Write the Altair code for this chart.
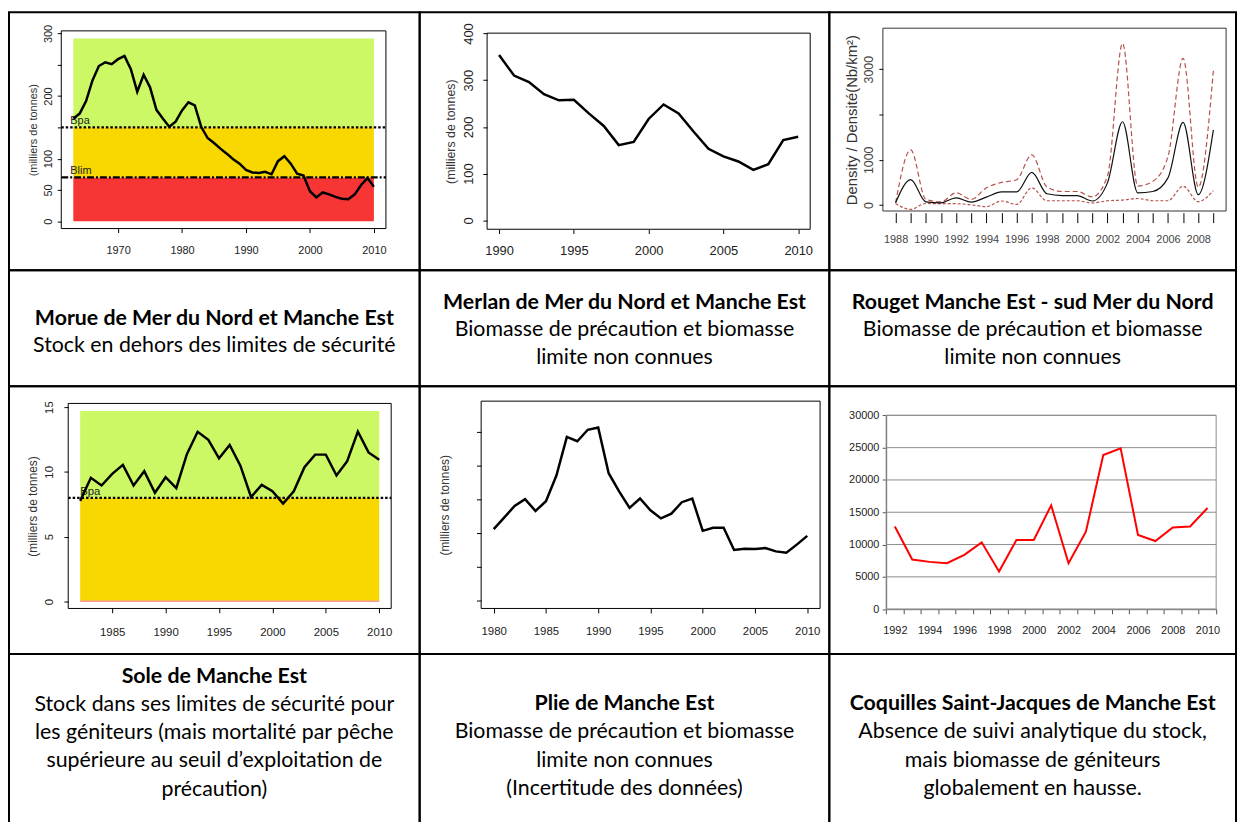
import altair as alt
import pandas as pd

# ---------------- data ----------------
MORUE_YEARS = list(range(1963, 2011))
MORUE_SSB = [164, 172, 192, 225, 248, 254, 251, 259, 264, 243,
             207, 234, 214, 178, 164, 151, 159, 177, 190, 185,
             151, 133, 125, 116, 108, 99, 92, 82, 78, 77,
             79, 75, 96, 104, 92, 76, 73, 48, 38, 46,
             43, 39, 36, 35, 43, 58, 69, 55]
MORUE_BLIM = 70
MORUE_BPA = 150
MORUE_TOP = 292
MORUE_YTICKS = [0, 50, 100, 150, 200, 250, 300]
MORUE_XTICKS = [1970, 1980, 1990, 2000, 2010]

MERLAN_YEARS = list(range(1990, 2011))
MERLAN_SSB = [354, 310, 296, 270, 257, 258, 229, 202, 161, 168, 217,
              248, 229, 190, 153, 137, 126, 108, 120, 172, 179]
MERLAN_YTICKS = [0, 100, 200, 300, 400]
MERLAN_XTICKS = [1990, 1995, 2000, 2005, 2010]

ROUGET_YEARS = list(range(1988, 2010))
ROUGET_MEAN = [50, 560, 70, 50, 160, 65, 175, 290, 290, 720, 250,
               210, 210, 90, 490, 1840, 270, 300, 600, 1825, 230, 1660]
ROUGET_UPPER = [50, 1220, 125, 70, 270, 125, 380, 500, 560, 1110, 400,
                300, 300, 180, 640, 3570, 420, 525, 1070, 3240, 395, 2970]
ROUGET_LOWER = [30, -95, 35, 30, 30, 5, -35, 90, 15, 380, 95,
                95, 95, 45, 95, 110, 145, 95, 95, 415, 75, 320]
ROUGET_YTICKS = [0, 1000, 2000, 3000]

SOLE_YEARS = list(range(1982, 2011))
SOLE_SSB = [7.76, 9.54, 8.95, 9.85, 10.54, 8.95, 10.05, 8.39, 9.59, 8.75,
            11.38, 13.09, 12.47, 11.05, 12.07, 10.48, 8.06, 9.0, 8.5, 7.55,
            8.5, 10.36, 11.33, 11.33, 9.72, 10.82, 13.11, 11.5, 10.94]
SOLE_BLIM = 0.08
SOLE_BPA = 8
SOLE_TOP = 14.7
SOLE_YTICKS = [0, 5, 10, 15]
SOLE_XTICKS = [1985, 1990, 1995, 2000, 2005, 2010]

PLIE_YEARS = list(range(1980, 2011))
PLIE_SSB = [21.1, 24.5, 28.0, 30.0, 26.5, 29.4, 37.0, 48.5, 47.2, 50.6, 51.3,
            37.7, 32.3, 27.4, 30.2, 26.7, 24.3, 25.7, 29.1, 30.2, 20.6,
            21.5, 21.5, 14.9, 15.3, 15.2, 15.5, 14.5, 14.1, 16.5, 19.1]
PLIE_YTICKS = [0, 10, 20, 30, 40, 50]
PLIE_XTICKS = [1980, 1985, 1990, 1995, 2000, 2005, 2010]

COQ_YEARS = list(range(1992, 2011))
COQ_VALUES = [12800, 7680, 7320, 7115, 8400, 10340, 5840, 10700, 10700, 16070,
              7115, 11980, 23850, 24880, 11470, 10545, 12640, 12800, 15660]
COQ_YTICKS = [0, 5000, 10000, 15000, 20000, 25000, 30000]
COQ_XBOUNDS = [y - 0.5 for y in COQ_YEARS] + [2010.5]

CAPTIONS = [
    ("Morue de Mer du Nord et Manche Est",
     ["Stock en dehors des limites de sécurité"]),
    ("Merlan de Mer du Nord et Manche Est",
     ["Biomasse de précaution et biomasse", "limite non connues"]),
    ("Rouget Manche Est - sud Mer du Nord",
     ["Biomasse de précaution et biomasse", "limite non connues"]),
    ("Sole de Manche Est",
     ["Stock dans ses limites de sécurité pour",
      "les géniteurs (mais mortalité par pêche",
      "supérieure au seuil d’exploitation de", "précaution)"]),
    ("Plie de Manche Est",
     ["Biomasse de précaution et biomasse", "limite non connues",
      "(Incertitude des données)"]),
    ("Coquilles Saint-Jacques de Manche Est",
     ["Absence de suivi analytique du stock,", "mais biomasse de géniteurs",
      "globalement en hausse."]),
]

# ---------------- layout ----------------
COL_W = [414, 413, 410]
ROW_H = [260, 117, 270, 175]
R_FONT = "Liberation Sans"
CAP_FONT = "Lato"
CAP_SIZE = 21.5
GREEN, YELLOW, RED = "#CCF865", "#F8D800", "#F83535"


def sc(dom, rng):
    return alt.Scale(domain=dom, range=rng, nice=False, zero=False)


def r_xaxis(values, offset, size, pad, tick=4.0, font=R_FONT, label_expr=None, color="#222"):
    kw = dict(values=values, format="d", title=None, grid=False, domain=False,
              tickSize=tick, tickColor="black", tickWidth=1, labelFont=font,
              labelFontSize=size, labelColor=color, labelPadding=pad, offset=offset,
              labelFlush=False, labelOverlap=False)
    if label_expr:
        kw["labelExpr"] = label_expr
    return alt.Axis(**kw)


def r_yaxis(values, offset, size, pad, title, tx, ty, tsize, tick=4.0,
            label_expr=None, labels=True, color="#222"):
    kw = dict(values=values, title=title, grid=False, domain=False, tickSize=tick,
              tickColor="black", labelFont=R_FONT, labelFontSize=size, labelColor=color,
              labelPadding=pad, labelAngle=270, labelAlign="center", labelBaseline="bottom",
              offset=offset, labelFlush=False, labelOverlap=False, labels=labels,
              titleFont=R_FONT, titleFontSize=tsize, titleFontWeight="normal",
              titleColor="#333", titleAngle=270, titleX=tx, titleY=ty,
              titleAlign="center", titleBaseline="middle", format="d")
    if label_expr:
        kw["labelExpr"] = label_expr
    return alt.Axis(**kw)


class Panel:
    """Holds the shared scales and axes of one plot cell (same in every layer)."""

    def __init__(self, xdom, xrng, ydom, yrng, xaxis, yaxis):
        self.xdom, self.ydom = xdom, ydom
        self.xs, self.ys = sc(xdom, xrng), sc(ydom, yrng)
        self.xa, self.ya = xaxis, yaxis

    def X(self, f):
        return alt.X(f, scale=self.xs, axis=self.xa)

    def Y(self, f):
        return alt.Y(f, scale=self.ys, axis=self.ya)

    def box(self, color="black", width=1.0):
        df = pd.DataFrame({"x0": [self.xdom[0]], "x1": [self.xdom[1]],
                           "y0": [self.ydom[0]], "y1": [self.ydom[1]]})
        return alt.Chart(df).mark_rect(fillOpacity=0, stroke=color, strokeWidth=width).encode(
            x=self.X("x0:Q"), x2="x1:Q", y=self.Y("y0:Q"), y2="y1:Q")

    def bands(self, x0, x1, edges, colors):
        df = pd.DataFrame({"x0": [x0] * len(colors), "x1": [x1] * len(colors),
                           "y0": edges[:-1], "y1": edges[1:], "c": colors})
        return alt.Chart(df).mark_rect(strokeWidth=0).encode(
            x=self.X("x0:Q"), x2="x1:Q", y=self.Y("y0:Q"), y2="y1:Q",
            color=alt.Color("c:N", scale=None))

    def hline(self, value, dash, width=2.2, color="black"):
        df = pd.DataFrame({"x0": [self.xdom[0]], "x1": [self.xdom[1]], "y": [value]})
        return alt.Chart(df).mark_rule(color=color, strokeWidth=width, strokeDash=dash).encode(
            x=self.X("x0:Q"), x2="x1:Q", y=self.Y("y:Q"))

    def hgrid(self, values, color):
        df = pd.DataFrame({"x0": [self.xdom[0]] * len(values),
                           "x1": [self.xdom[1]] * len(values), "y": values})
        return alt.Chart(df).mark_rule(color=color, strokeWidth=1).encode(
            x=self.X("x0:Q"), x2="x1:Q", y=self.Y("y:Q"))

    def label(self, text, xval, yval, dx=0, dy=-3, size=11):
        df = pd.DataFrame({"x": [xval], "y": [yval], "t": [text]})
        return alt.Chart(df).mark_text(align="left", baseline="alphabetic", dx=dx, dy=dy,
                                       font=R_FONT, fontSize=size, color="#222").encode(
            x=self.X("x:Q"), y=self.Y("y:Q"), text="t:N")

    def line(self, df, yfield, color="black", width=2.5, dash=None, interp="linear"):
        kw = dict(color=color, strokeWidth=width, interpolate=interp)
        if dash:
            kw["strokeDash"] = dash
        return alt.Chart(df).mark_line(**kw).encode(x=self.X("year:Q"), y=self.Y(yfield))


# ---------- Panel 1: Morue ----------
W, H = COL_W[0], ROW_H[0]
XR, YR = [52.7, 380.0], [218.0, 18.7]
P = Panel([1961.12, 2011.88], XR, [-11.7, 304.2], YR,
          r_xaxis(MORUE_XTICKS, YR[0] - H, 11, 12),
          r_yaxis(MORUE_YTICKS, -XR[0], 11, 3.4, "(milliers de tonnes)", 25 - XR[0],
                  (YR[0] + YR[1]) / 2, 11,
                  label_expr="datum.value == 150 || datum.value == 250 ? '' : datum.label"))
morue = pd.DataFrame({"year": MORUE_YEARS, "v": MORUE_SSB})
p1 = alt.layer(
    P.bands(MORUE_YEARS[0], MORUE_YEARS[-1], [0, MORUE_BLIM, MORUE_BPA, MORUE_TOP],
            [RED, YELLOW, GREEN]),
    P.hline(MORUE_BPA, [2.5, 2]),
    P.hline(MORUE_BLIM, [7, 2, 2, 2]),
    P.label("Bpa", MORUE_YEARS[0], MORUE_BPA, dx=-3),
    P.label("Blim", MORUE_YEARS[0], MORUE_BLIM, dx=-3),
    P.box(),
    P.line(morue, "v:Q"),
).properties(width=W, height=H)

# ---------- Panel 2: Merlan ----------
W, H = COL_W[1], ROW_H[0]
XR, YR = [68.0, 393.7], [218.7, 21.0]
P = Panel([1989.2, 2010.8], XR, [-19.1, 400.7], YR,
          r_xaxis(MERLAN_XTICKS, YR[0] - H, 13, 11, tick=4.3),
          r_yaxis(MERLAN_YTICKS, -XR[0], 13, 7, "(milliers de tonnes)", 31.3 - XR[0],
                  (YR[0] + YR[1]) / 2, 12.5, tick=4.3))
merlan = pd.DataFrame({"year": MERLAN_YEARS, "v": MERLAN_SSB})
p2 = alt.layer(P.box(), P.line(merlan, "v:Q")).properties(width=W, height=H)

# ---------- Panel 3: Rouget ----------
W, H = COL_W[2], ROW_H[0]
XR, YR = [54.0, 400.0], [200.3, 16.0]
P = Panel([1987.16, 2009.84], XR, [-131, 3905], YR,
          r_xaxis(ROUGET_YEARS, 202 - H, 11, 11, tick=10, color="#444",
                  label_expr="datum.value % 2 == 0 && datum.value <= 2008 ? datum.label : ''"),
          r_yaxis(ROUGET_YTICKS, -XR[0], 12.5, 3.3, "Density / Densité(Nb/km²)", 22 - XR[0],
                  (YR[0] + YR[1]) / 2, 15, color="#444",
                  label_expr="datum.value == 2000 ? '' : datum.label"))
rouget = pd.DataFrame({"year": ROUGET_YEARS, "m": ROUGET_MEAN,
                       "u": ROUGET_UPPER, "l": ROUGET_LOWER})
DASH_RED = "#B5524A"
p3 = alt.layer(
    P.box(color="#333"),
    P.line(rouget, "u:Q", color=DASH_RED, width=1.2, dash=[5, 3], interp="monotone"),
    P.line(rouget, "l:Q", color=DASH_RED, width=1.2, dash=[3, 2], interp="monotone"),
    P.line(rouget, "m:Q", color="#111", width=1.2, interp="monotone"),
).properties(width=W, height=H)

# ---------- Panel 4: Sole ----------
W, H = COL_W[0], ROW_H[2]
XR, YR = [59.7, 385.3], [224.0, 17.3]
P = Panel([1980.88, 2011.12], XR, [-0.54, 15.28], YR,
          r_xaxis(SOLE_XTICKS, YR[0] - H, 11.5, 14, tick=4.3),
          r_yaxis(SOLE_YTICKS, -XR[0], 11.5, 10, "(milliers de tonnes)", 23.7 - XR[0],
                  (YR[0] + YR[1]) / 2, 12, tick=4.3))
sole = pd.DataFrame({"year": SOLE_YEARS, "v": SOLE_SSB})
p4 = alt.layer(
    P.bands(SOLE_YEARS[0], SOLE_YEARS[-1], [0, SOLE_BLIM, SOLE_BPA, SOLE_TOP],
            [RED, YELLOW, GREEN]),
    P.hline(SOLE_BPA, [2.5, 2]),
    P.label("Bpa", SOLE_YEARS[0], SOLE_BPA, dx=0, dy=-3, size=11.5),
    P.box(),
    P.line(sole, "v:Q"),
).properties(width=W, height=H)

# ---------- Panel 5: Plie ----------
W, H = COL_W[1], ROW_H[2]
XR, YR = [62.0, 403.7], [224.0, 15.0]
P = Panel([1978.8, 2011.23], XR, [-2.45, 59.1], YR,
          r_xaxis(PLIE_XTICKS, YR[0] - H, 11.5, 13, tick=4.5),
          r_yaxis(PLIE_YTICKS, -XR[0], 11, 3, "(milliers de tonnes)", 24.7 - XR[0],
                  (YR[0] + YR[1]) / 2, 12, tick=4.7, labels=False))
plie = pd.DataFrame({"year": PLIE_YEARS, "v": PLIE_SSB})
p5 = alt.layer(P.box(), P.line(plie, "v:Q")).properties(width=W, height=H)

# ---------- Panel 6: Coquilles ----------
W, H = COL_W[2], ROW_H[2]
XR, YR = [57.3, 390.0], [224.7, 29.3]
cat_w = (XR[1] - XR[0]) / len(COQ_YEARS)
P = Panel([1991.5, 2010.5], XR, [0, 30000], YR,
          alt.Axis(values=COQ_XBOUNDS, title=None, grid=False, domain=True, domainColor="#555",
                   tickSize=4.7, tickColor="#555", labelFont=R_FONT, labelFontSize=11,
                   labelColor="#222", labelPadding=10.6, labelOffset=cat_w / 2,
                   offset=YR[0] - H, labelFlush=False, labelOverlap=False,
                   labelExpr="(datum.value + 0.5) % 2 == 0 && datum.value < 2010 ? format(datum.value + 0.5, 'd') : ''"),
          alt.Axis(values=COQ_YTICKS, format="d", title=None, grid=False, domain=True,
                   domainColor="#555", tickSize=4, tickColor="#555", labelFont=R_FONT,
                   labelFontSize=11, labelColor="#222", labelPadding=3.3, offset=-XR[0],
                   labelFlush=False, labelOverlap=False))
coq = pd.DataFrame({"year": COQ_YEARS, "v": COQ_VALUES})
p6 = alt.layer(
    P.hgrid(COQ_YTICKS, "#8c8c8c"),
    P.box(color="#8c8c8c"),
    P.line(coq, "v:Q", color="#FF0000", width=2),
).properties(width=W, height=H)


# ---------- captions ----------
def caption_cell(idx, w, h, y0, lh):
    title, body = CAPTIONS[idx]
    df = pd.DataFrame({"t": [title], "b": ["\n".join(body)]})
    base = alt.Chart(df)
    t = base.mark_text(font=CAP_FONT, fontSize=CAP_SIZE, fontWeight="bold", align="center",
                       baseline="alphabetic", color="black").encode(
        x=alt.value(w / 2), y=alt.value(y0), text="t:N")
    b = base.mark_text(font=CAP_FONT, fontSize=CAP_SIZE, align="center",
                       baseline="alphabetic", lineBreak="\n", lineHeight=lh,
                       color="black").encode(
        x=alt.value(w / 2), y=alt.value(y0 + lh), text="b:N")
    return alt.layer(t, b).properties(width=w, height=h)


c1 = caption_cell(0, COL_W[0], ROW_H[1], 55, 27.7)
c2 = caption_cell(1, COL_W[1], ROW_H[1], 39, 27.7)
c3 = caption_cell(2, COL_W[2], ROW_H[1], 39, 27.7)
c4 = caption_cell(3, COL_W[0], ROW_H[3], 29.3, 28.33)
c5 = caption_cell(4, COL_W[1], ROW_H[3], 56.7, 28.33)
c6 = caption_cell(5, COL_W[2], ROW_H[3], 56.7, 28.33)

chart = alt.concat(
    p1, p2, p3, c1, c2, c3, p4, p5, p6, c4, c5, c6,
    columns=3, spacing=0, bounds="flush", align="each",
).configure_view(
    stroke="black", strokeWidth=2
).properties(padding=0, background="white")

chart.save("out.html", embed_options={"renderer": "svg", "actions": False})
